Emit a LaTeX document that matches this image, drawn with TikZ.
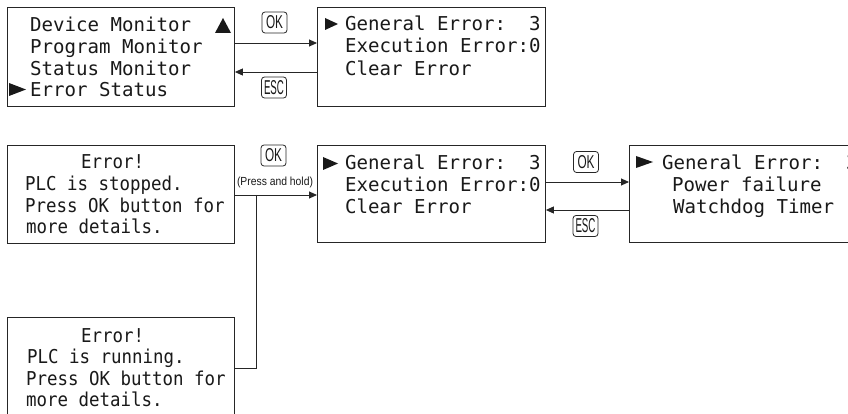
\documentclass[tikz,border=0pt]{standalone}
\usepackage{fontspec}
\usetikzlibrary{arrows.meta}
\newfontfamily\lcdfont{DejaVu Sans Mono}
\newfontfamily\lcdnarrow[FakeStretch=0.913]{DejaVu Sans Mono}
\newfontfamily\labfont{Liberation Sans}
\tikzset{
  screen/.style={draw=black!85, line width=0.9pt, rectangle, inner sep=0pt, anchor=north west},
  lcd/.style={font=\lcdfont\fontsize{19.1}{22}\selectfont, inner sep=0pt, anchor=base west, text=black!90},
  lcdn/.style={font=\lcdnarrow\fontsize{19.1}{22}\selectfont, inner sep=0pt, anchor=base west, text=black!90},
  key/.style={draw=black!85, line width=0.8pt, rounded corners=3pt, minimum width=25pt, minimum height=21pt, inner sep=0pt, font=\labfont, text=black!90},
  conn/.style={line width=0.9pt, draw=black!85},
  arr/.style={conn, -{Triangle[length=8pt,width=7pt]}},
  ptr/.style={fill=black!90}
}
\newcommand{\okkey}{\resizebox{17pt}{13pt}{OK}}
\newcommand{\esckey}{\resizebox{20pt}{14pt}{ESC}}
\begin{document}
\frenchspacing
\begin{tikzpicture}[x=1pt,y=-1pt]
\useasboundingbox (0,0) rectangle (848,414);
\clip (0,0) rectangle (848,414);
\fill[white] (0,0) rectangle (848,414);
% screens
\node[screen, minimum width=227pt, minimum height=99pt] (A) at (7,7) {};
\node[screen, minimum width=228pt, minimum height=99pt] (B) at (317,7) {};
\node[screen, minimum width=227pt, minimum height=98pt] (C) at (7,145) {};
\node[screen, minimum width=228pt, minimum height=97pt] (D) at (317,145) {};
\node[screen, minimum width=250pt, minimum height=97pt] (E) at (629,145) {};
\node[screen, minimum width=227pt, minimum height=113pt] (F) at (7,317) {};
% screen A text
\node[lcd] (a1) at (30,32) {Device Monitor};
\node[lcd] (a2) at (30,53.5) {Program Monitor};
\node[lcd] (a3) at (30,75.5) {Status Monitor};
\node[lcd] (a4) at (30,97) {Error Status};
\fill[ptr] (9,83) -- (26,89.5) -- (9,96) -- cycle;
\fill[ptr] (215,33) -- (223,18) -- (231,33) -- cycle;
% screen B text
\fill[ptr] (325,18) -- (338,24) -- (325,30) -- cycle;
\node[lcd] (b1) at (345,31) {General Error:\ \ 3};
\node[lcd] (b2) at (345,53) {Execution Error:0};
\node[lcd] (b3) at (345,75.5) {Clear Error};
% screen C text
\node[lcdn] (c1) at (81,168) {Error!};
\node[lcdn] (c2) at (25,190) {PLC is stopped.};
\node[lcdn] (c3) at (25,212) {Press OK button for};
\node[lcdn] (c4) at (26,233) {more details.};
% screen D text
\fill[ptr] (323,157) -- (338,163.5) -- (323,170) -- cycle;
\node[lcd] (d1) at (345,170) {General Error:\ \ 3};
\node[lcd] (d2) at (345,192) {Execution Error:0};
\node[lcd] (d3) at (345,214) {Clear Error};
% screen E text
\fill[ptr] (636,156) -- (653,162) -- (636,168) -- cycle;
\node[lcd] (e1) at (662,170) {General Error:\ \ 3};
\node[lcd] (e2) at (672,192) {Power failure};
\node[lcd] (e3) at (673,213) {Watchdog Timer};
% screen F text
\node[lcdn] (f1) at (81,342) {Error!};
\node[lcdn] (f2) at (27,363.5) {PLC is running.};
\node[lcdn] (f3) at (26,385) {Press OK button for};
\node[lcdn] (f4) at (26,406.5) {more details.};
% helper coordinates
\coordinate (y43) at (0,43);
\coordinate (y72) at (0,72);
\coordinate (y182) at (0,182);
\coordinate (y210) at (0,210);
\coordinate (jt) at (256,195);
\coordinate (jb) at (256,368);
% connectors
\draw[arr] (A.east |- y43) -- (B.west |- y43);
\draw[arr] (B.west |- y72) -- (A.east |- y72);
\draw[arr] (C.east |- jt) -- (D.west |- jt);
\draw[conn] (jt) -- (jb) -- (F.east |- jb);
\draw[arr] (D.east |- y182) -- (E.west |- y182);
\draw[arr] (E.west |- y210) -- (D.east |- y210);
% keys
\node[key] (ok1) at (274.5,22.5) {\okkey};
\node[key] (esc1) at (274,87.5) {\esckey};
\node[key] (ok2) at (273.5,155.5) {\okkey};
\node[inner sep=0pt, font=\labfont, text=black!90] (hold) at (275,182.5) {\resizebox{76pt}{8.5pt}{(Press and hold)}};
\node[key] (ok3) at (586,162) {\okkey};
\node[key] (esc3) at (585.5,226) {\esckey};
\end{tikzpicture}
\end{document}
